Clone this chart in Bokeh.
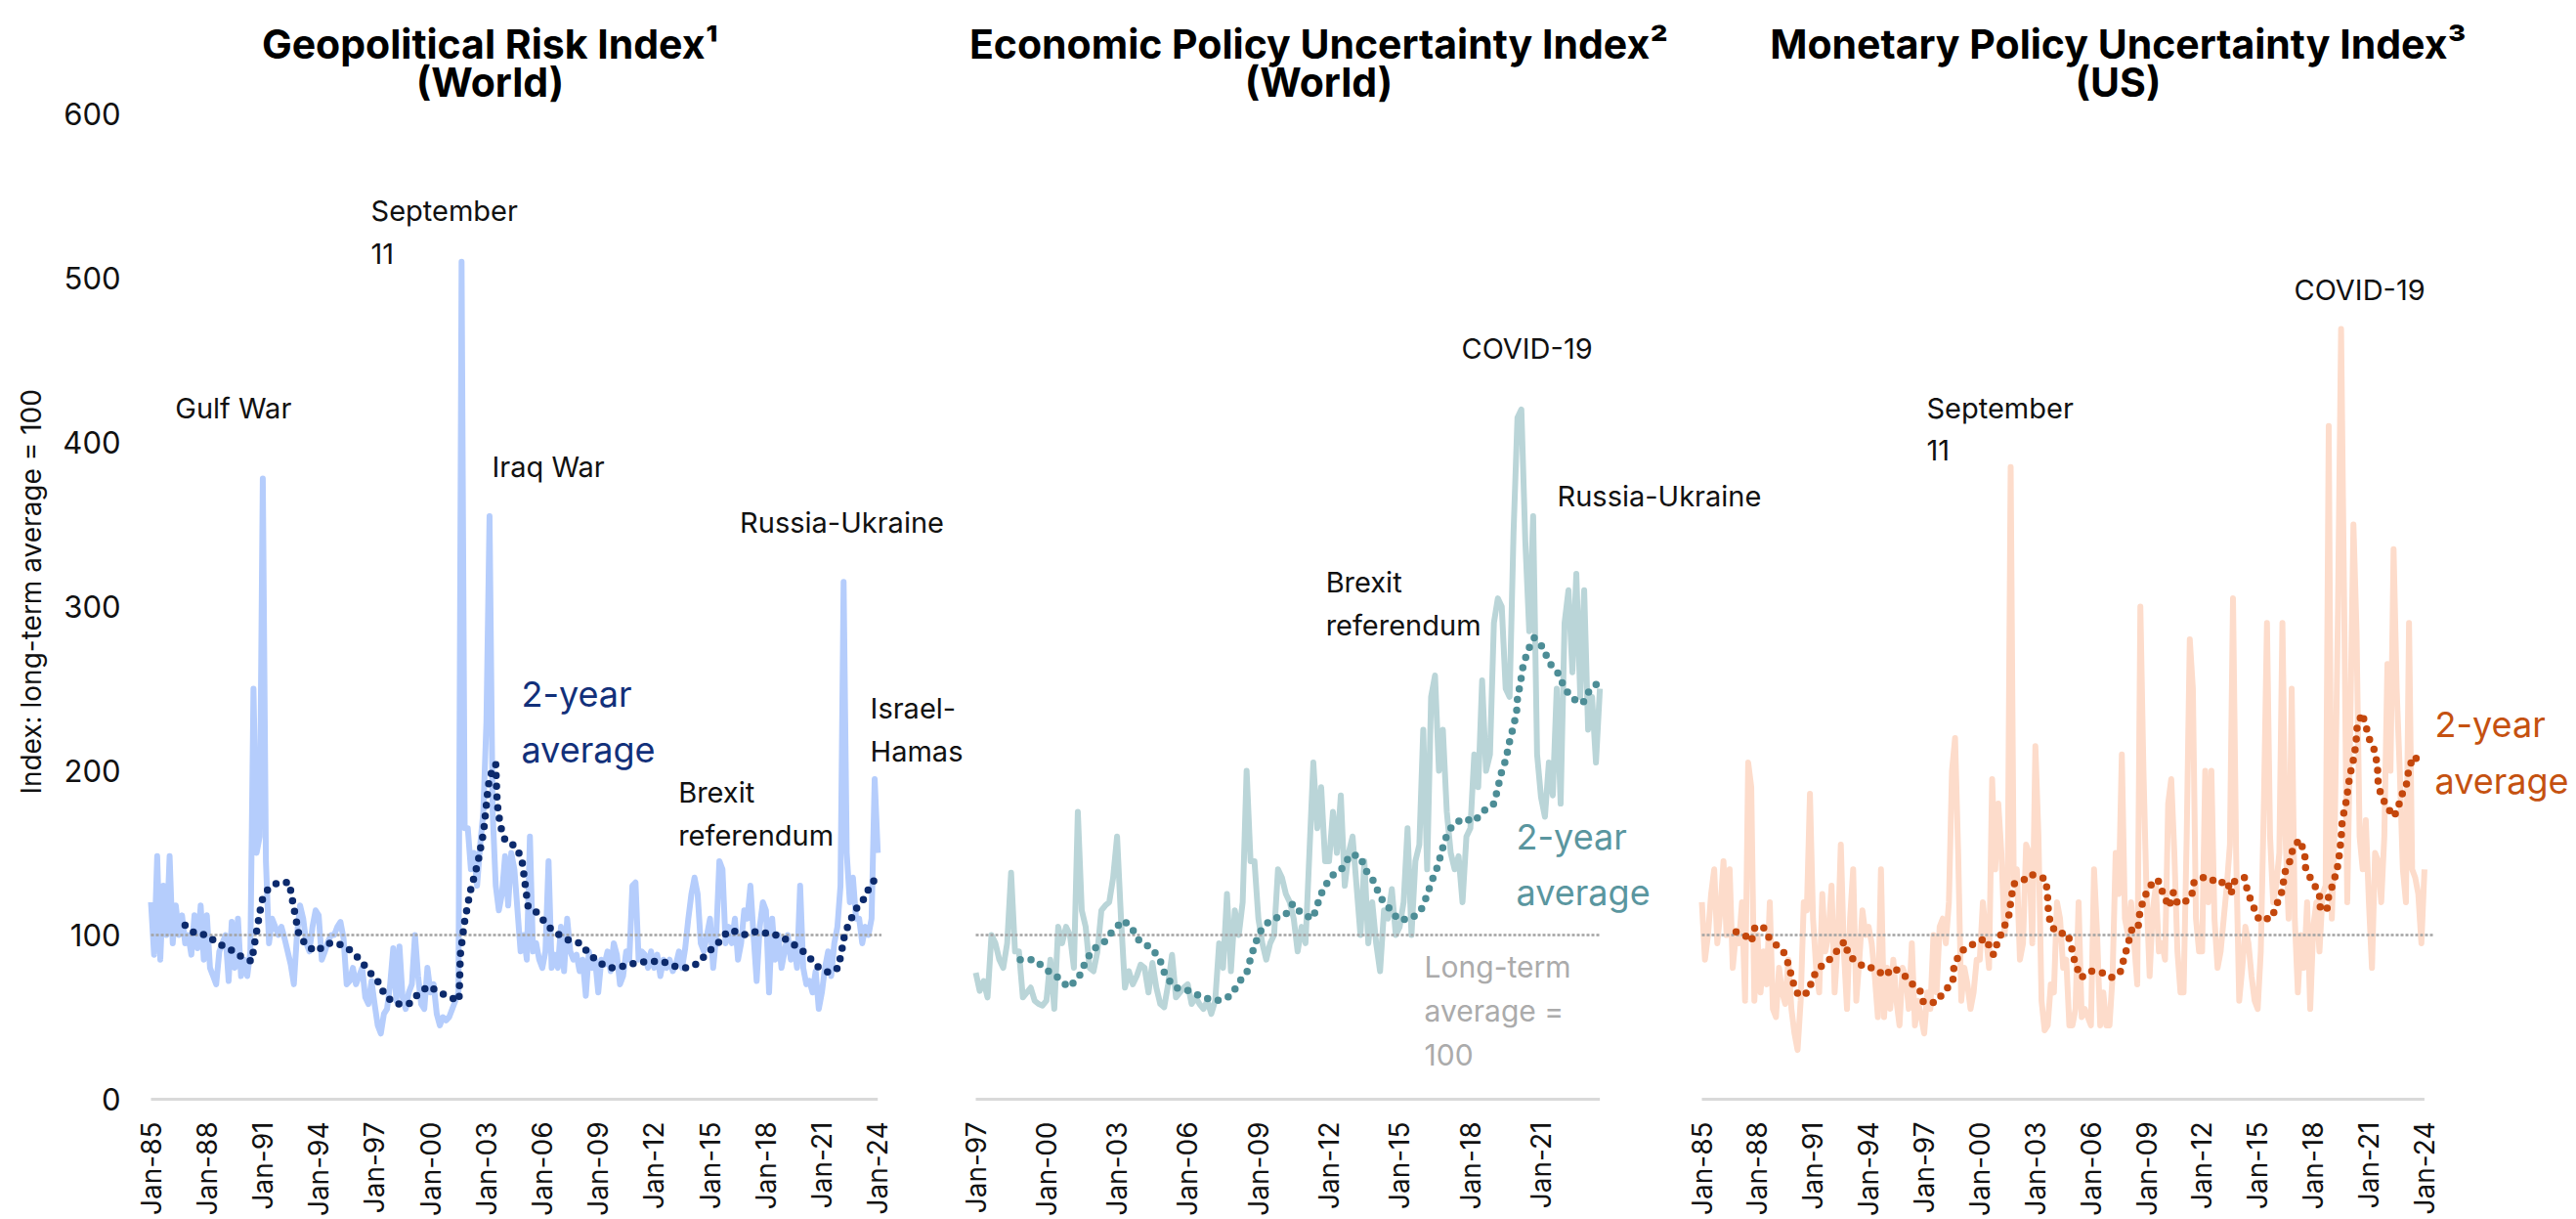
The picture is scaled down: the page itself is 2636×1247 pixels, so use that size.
import math
import pandas as pd
from bokeh.plotting import figure
from bokeh.models import Range1d, Label, LabelSet, ColumnDataSource
from bokeh.core.properties import value
from bokeh.embed import file_html
from bokeh.resources import INLINE

FONT = "Inter"

# ---------------------------------------------------------------- data
# Geopolitical Risk Index (world), readings every two months from Jan-1985
gpr_start = "1985-01"
gpr_values = [
    120, 88, 148, 85, 130, 100,    # 1985
    148, 95, 118, 100, 112, 95,    # 1986
    100, 88, 112, 92, 118, 85,     # 1987
    112, 80, 75, 70, 90, 95,       # 1988
    100, 72, 108, 80, 110, 75,     # 1989
    85, 75, 90, 250, 150, 160,     # 1990
    378, 145, 95, 110, 105, 100,   # 1991
    105, 98, 90, 82, 70, 100,      # 1992
    118, 110, 95, 90, 105, 115,    # 1993
    112, 85, 90, 96, 100, 100,     # 1994
    105, 108, 98, 70, 72, 80,      # 1995
    70, 75, 80, 62, 58, 72,        # 1996
    58, 45, 40, 52, 55, 70,        # 1997
    92, 60, 93, 62, 55, 65,        # 1998
    70, 100, 75, 58, 55, 80,       # 1999
    65, 70, 52, 45, 50, 48,        # 2000
    50, 55, 60, 65, 510, 165,      # 2001
    165, 140, 150, 130, 155, 175,  # 2002
    230, 355, 175, 130, 115, 125,  # 2003
    148, 118, 150, 140, 115, 90,   # 2004
    100, 85, 160, 90, 95, 85,      # 2005
    80, 90, 145, 80, 88, 80,       # 2006
    105, 78, 110, 90, 85, 88,      # 2007
    78, 85, 63, 90, 80, 85,        # 2008
    65, 85, 82, 90, 78, 95,        # 2009
    88, 70, 75, 90, 85, 130,       # 2010
    132, 85, 90, 88, 80, 90,       # 2011
    80, 88, 75, 85, 80, 85,        # 2012
    78, 82, 90, 80, 92, 110,       # 2013
    125, 135, 125, 95, 90, 100,    # 2014
    110, 80, 100, 145, 140, 95,    # 2015
    105, 95, 110, 85, 95, 115,     # 2016
    110, 130, 100, 72, 105, 120,   # 2017
    115, 65, 110, 85, 100, 80,     # 2018
    90, 100, 85, 95, 80, 130,      # 2019
    80, 70, 72, 65, 78, 55,        # 2020
    65, 80, 90, 75, 95, 105,       # 2021
    130, 315, 150, 120, 135, 110,  # 2022
    110, 95, 105, 100, 110, 195,   # 2023
    150,                           # 2024
]
gpr_avg_years = [
    1986.83, 1987.36, 1987.97, 1988.58, 1989.28, 1989.83, 1990.41, 1990.53,
    1990.95, 1991.28, 1991.81, 1992.42, 1992.56, 1992.94, 1993.38, 1993.87,
    1994.48, 1995.03, 1995.65, 1996.22, 1996.69, 1997.22, 1997.57, 1998.14,
    1998.84, 1999.33, 1999.89, 2000.48, 2001.07, 2001.53, 2001.60, 2001.81,
    2002.12, 2002.54, 2002.85, 2003.10, 2003.29, 2003.50, 2003.56, 2003.62,
    2003.76, 2004.02, 2004.58, 2004.90, 2005.02, 2005.12, 2005.24, 2005.80,
    2006.24, 2006.76, 2007.39, 2008.02, 2008.47, 2009.05, 2009.66, 2010.36,
    2011.02, 2011.72, 2012.42, 2013.10, 2013.74, 2014.40, 2014.82, 2015.36,
    2015.75, 2016.15, 2016.79, 2017.33, 2017.81, 2018.21, 2018.65, 2019.26,
    2019.78, 2020.20, 2020.74, 2021.39, 2021.88, 2022.04, 2022.20, 2022.44,
    2022.84, 2023.26, 2023.63, 2023.95,
]
gpr_avg_values = [
    106, 101, 100, 95, 91, 87, 84, 93,
    121, 128, 132, 132, 123, 100, 93, 90,
    95, 95, 91, 85, 78, 71, 63, 58,
    58, 64, 69, 65, 62, 60, 88, 107,
    126, 144, 163, 191, 200, 204, 185, 176,
    166, 157, 154, 146, 136, 127, 117, 113,
    106, 101, 97, 95, 89, 83, 80, 81,
    83, 84, 84, 81, 80, 83, 89, 94,
    100, 103, 100, 102, 102, 100, 100, 96,
    92, 88, 81, 77, 80, 89, 99, 107,
    116, 122, 131, 135,
]
gpr_ticks = ["Jan-85", "Jan-88", "Jan-91", "Jan-94", "Jan-97", "Jan-00", "Jan-03",
             "Jan-06", "Jan-09", "Jan-12", "Jan-15", "Jan-18", "Jan-21", "Jan-24"]

# Economic Policy Uncertainty Index (world), readings every two months from Jan-1997
epu_start = "1997-01"
epu_values = [
    77, 66, 72, 62, 100, 95,       # 1997
    85, 80, 95, 138, 90, 90,       # 1998
    62, 65, 68, 60, 58, 57,        # 1999
    60, 85, 55, 105, 95, 105,      # 2000
    100, 80, 175, 115, 105, 80,    # 2001
    78, 90, 115, 118, 120, 135,    # 2002
    160, 110, 68, 78, 70, 75,      # 2003
    82, 80, 65, 83, 68, 58,        # 2004
    56, 70, 88, 62, 65, 68,        # 2005
    70, 58, 62, 58, 55, 60,        # 2006
    52, 60, 95, 80, 125, 78,       # 2007
    115, 100, 120, 200, 145, 145,  # 2008
    110, 95, 85, 95, 100, 140,     # 2009
    135, 125, 120, 110, 90, 105,   # 2010
    95, 150, 205, 165, 190, 145,   # 2011
    145, 175, 150, 185, 130, 150,  # 2012
    160, 130, 100, 145, 95, 120,   # 2013
    95, 78, 115, 110, 128, 100,    # 2014
    105, 120, 165, 100, 145, 155,  # 2015
    225, 140, 245, 258, 200, 225,  # 2016
    175, 150, 140, 148, 120, 160,  # 2017
    165, 210, 190, 255, 200, 210,  # 2018
    290, 305, 300, 250, 245, 345,  # 2019
    415, 420, 340, 285, 355, 210,  # 2020
    184, 172, 205, 185, 250, 180,  # 2021
    290, 310, 260, 320, 245, 310,  # 2022
    225, 245, 205, 250,            # 2023
]
epu_avg_years = [
    1998.89, 1999.49, 1999.99, 2000.50, 2000.94, 2001.37, 2001.64, 2001.95,
    2002.47, 2002.84, 2003.28, 2003.63, 2003.96, 2004.49, 2004.84, 2005.06,
    2005.46, 2006.08, 2006.63, 2007.25, 2007.84, 2008.17, 2008.53, 2008.69,
    2008.90, 2009.18, 2009.63, 2010.14, 2010.46, 2010.83, 2011.31, 2011.52,
    2011.75, 2012.11, 2012.59, 2012.90, 2013.31, 2013.58, 2013.93, 2014.17,
    2014.57, 2014.96, 2015.49, 2015.90, 2016.13, 2016.34, 2016.59, 2016.75,
    2016.92, 2017.24, 2017.72, 2018.16, 2018.51, 2019.00, 2019.16, 2019.30,
    2019.51, 2019.65, 2019.81, 2019.96, 2020.00, 2020.13, 2020.23, 2020.43,
    2020.71, 2021.09, 2021.34, 2021.74, 2022.01, 2022.33, 2022.77, 2023.06,
    2023.54,
]
epu_avg_values = [
    85, 85, 79, 74, 68, 74, 83, 91,
    96, 103, 109, 104, 96, 92, 84, 75,
    68, 66, 62, 60, 63, 71, 78, 87,
    96, 105, 110, 112, 119, 113, 110, 119,
    128, 136, 141, 149, 148, 139, 132, 123,
    116, 109, 110, 115, 123, 132, 141, 149,
    158, 167, 171, 169, 175, 180, 189, 198,
    207, 217, 226, 235, 244, 254, 263, 273,
    281, 275, 266, 259, 250, 244, 241, 249,
    255,
]
epu_ticks = ["Jan-97", "Jan-00", "Jan-03", "Jan-06", "Jan-09", "Jan-12",
             "Jan-15", "Jan-18", "Jan-21"]

# Monetary Policy Uncertainty Index (US), readings every two months from Jan-1985
mpu_start = "1985-01"
mpu_values = [
    120, 85, 100, 125, 140, 95,    # 1985
    115, 145, 100, 140, 80, 100,   # 1986
    95, 120, 60, 205, 190, 60,     # 1987
    100, 65, 90, 70, 120, 55,      # 1988
    50, 80, 65, 58, 85, 55,        # 1989
    40, 30, 60, 120, 115, 186,     # 1990
    110, 80, 65, 125, 90, 100,     # 1991
    130, 65, 95, 155, 90, 55,      # 1992
    110, 140, 60, 85, 115, 100,    # 1993
    105, 95, 75, 50, 140, 50,      # 1994
    80, 55, 85, 60, 45, 80,        # 1995
    75, 55, 95, 45, 60, 50,        # 1996
    40, 65, 55, 100, 65, 105,      # 1997
    110, 95, 120, 200, 220, 150,   # 1998
    60, 80, 70, 55, 65, 85,        # 1999
    85, 120, 100, 80, 195, 140,    # 2000
    180, 150, 100, 120, 385, 130,  # 2001
    140, 85, 95, 155, 150, 95,     # 2002
    215, 160, 60, 42, 45, 70,      # 2003
    65, 120, 110, 80, 85, 45,      # 2004
    45, 55, 120, 50, 55, 50,       # 2005
    45, 140, 100, 45, 65, 45,      # 2006
    45, 75, 150, 125, 210, 110,    # 2007
    100, 120, 95, 70, 300, 200,    # 2008
    125, 75, 115, 130, 90, 95,     # 2009
    85, 180, 195, 150, 90, 65,     # 2010
    65, 160, 280, 250, 110, 90,    # 2011
    90, 200, 120, 200, 110, 80,    # 2012
    90, 110, 130, 155, 305, 150,   # 2013
    60, 80, 105, 95, 75, 60,       # 2014
    55, 90, 180, 290, 160, 120,    # 2015
    130, 150, 290, 160, 110, 250,  # 2016
    110, 65, 100, 80, 120, 55,     # 2017
    105, 120, 90, 125, 130, 410,   # 2018
    110, 170, 300, 469, 300, 120,  # 2019
    230, 350, 285, 160, 140, 170,  # 2020
    120, 80, 150, 145, 120, 160,   # 2021
    265, 200, 335, 250, 200, 140,  # 2022
    120, 290, 140, 135, 125, 95,   # 2023
    140,                           # 2024
]
mpu_avg_years = [
    1986.85, 1987.43, 1987.67, 1987.87, 1988.31, 1988.64, 1989.01, 1989.45,
    1989.71, 1989.89, 1990.22, 1990.75, 1990.98, 1991.33, 1991.81, 1992.34,
    1992.69, 1992.95, 1993.36, 1993.80, 1994.23, 1994.64, 1994.89, 1995.29,
    1995.82, 1996.26, 1996.75, 1996.96, 1997.66, 1998.10, 1998.54, 1998.60,
    1998.90, 1999.34, 1999.81, 2000.30, 2000.57, 2000.74, 2000.97, 2001.32,
    2001.57, 2001.68, 2001.82, 2002.33, 2002.71, 2003.08, 2003.56, 2003.65,
    2003.70, 2003.82, 2004.22, 2004.74, 2004.96, 2005.14, 2005.46, 2006.02,
    2006.60, 2007.08, 2007.57, 2007.79, 2008.01, 2008.22, 2008.54, 2008.63,
    2008.84, 2009.19, 2009.60, 2009.90, 2010.21, 2010.45, 2010.68, 2011.03,
    2011.42, 2011.56, 2012.00, 2012.41, 2012.83, 2013.36, 2013.55, 2013.76,
    2014.29, 2014.46, 2014.78, 2015.08, 2015.48, 2015.75, 2016.04, 2016.36,
    2016.42, 2016.71, 2016.93, 2017.28, 2017.54, 2017.59, 2017.98, 2018.33,
    2018.38, 2018.73, 2018.82, 2019.09, 2019.30, 2019.42, 2019.51, 2019.56,
    2019.74, 2019.86, 2019.97, 2020.15, 2020.30, 2020.36, 2020.62, 2020.80,
    2021.00, 2021.32, 2021.46, 2021.50, 2021.67, 2022.02, 2022.29, 2022.52,
    2022.73, 2023.03, 2023.17, 2023.43, 2023.84,
]
mpu_avg_values = [
    102, 99, 96, 105, 105, 98, 94, 89,
    81, 72, 63, 65, 74, 80, 84, 91,
    96, 87, 84, 80, 80, 77, 75, 80,
    77, 71, 67, 59, 59, 66, 71, 80,
    89, 93, 95, 98, 92, 88, 96, 105,
    112, 121, 131, 133, 137, 136, 134, 125,
    115, 106, 101, 101, 92, 83, 74, 78,
    77, 74, 77, 86, 95, 104, 104, 113,
    122, 130, 134, 125, 117, 126, 119, 120,
    123, 132, 135, 135, 131, 133, 125, 133,
    135, 126, 117, 109, 110, 110, 119, 128,
    137, 144, 154, 158, 149, 140, 132, 125,
    116, 115, 123, 132, 141, 150, 160, 170,
    179, 188, 197, 206, 216, 226, 235, 229,
    220, 212, 203, 193, 184, 178, 172, 175,
    184, 192, 202, 209, 204,
]
mpu_ticks = gpr_ticks

y_ticks = [0, 100, 200, 300, 400, 500, 600]
long_term_average = 100

# ---------------------------------------------------------------- layout
# The plot frame fills the whole canvas so that titles, tick labels and
# notes can sit anywhere without being clipped.
W, H = 2636, 1247
AXIS_TOP_PX, AXIS_BOTTOM_PX = 116, 1124      # canvas rows of y=600 and y=0
Y_MAX = 600
PX_PER_UNIT = (AXIS_BOTTOM_PX - AXIS_TOP_PX) / Y_MAX
Y_LO = -(H - AXIS_BOTTOM_PX) / PX_PER_UNIT
Y_HI = Y_MAX + AXIS_TOP_PX / PX_PER_UNIT
TICK_GAP_PX = 23
YLABEL_RIGHT_PX = 123
TITLE_BASELINES_PX = (44, 83)

INK = "#111111"
LABEL_SIZE = "29px"


def to_years(start, n):
    months = pd.date_range(start, periods=n, freq="2MS")
    return [d.year + (d.month - 1) / 12 for d in months]


def tick_year(label):
    yy = int(label[-2:])
    return float(1900 + yy if yy >= 50 else 2000 + yy)


panels = [
    dict(key="gpr", origin=1985.0, px0=154, ppy=19.07,
         start=gpr_start, values=gpr_values, avg_x=gpr_avg_years, avg_y=gpr_avg_values,
         ticks=gpr_ticks, line="#b5cdfc", dots="#0c2a6c", avg_text="#12307a",
         span_end=2024.2,
         title=("Geopolitical Risk Index\u00b9", "(World)"), title_x=501,
         notes=[("Gulf War", 1986.3, 421), ("September\n11", 1996.8, 528),
                ("Iraq War", 2003.3, 385), ("Brexit\nreferendum", 2013.3, 174),
                ("Russia-Ukraine", 2016.6, 351), ("Israel-\nHamas", 2023.6, 225)],
         avg_label=(2004.87, 230)),
    dict(key="epu", origin=1997.0, px0=998, ppy=24.1,
         start=epu_start, values=epu_values, avg_x=epu_avg_years, avg_y=epu_avg_values,
         ticks=epu_ticks, line="#bad5d8", dots="#4d8d96", avg_text="#5a969f",
         span_end=None,
         title=("Economic Policy Uncertainty Index\u00b2", "(World)"), title_x=1349,
         notes=[("COVID-19", 2017.62, 457), ("Russia-Ukraine", 2021.69, 367),
                ("Brexit\nreferendum", 2011.86, 302)],
         avg_label=(2019.95, 143)),
    dict(key="mpu", origin=1985.0, px0=1741, ppy=18.96,
         start=mpu_start, values=mpu_values, avg_x=mpu_avg_years, avg_y=mpu_avg_values,
         ticks=mpu_ticks, line="#fddccb", dots="#c4470c", avg_text="#c55110",
         span_end=2024.5,
         title=("Monetary Policy Uncertainty Index\u00b3", "(US)"), title_x=2167,
         notes=[("September\n11", 1997.13, 408), ("COVID-19", 2016.96, 493)],
         avg_label=(2024.56, 211)),
]

p = figure(width=W, height=H, output_backend="svg", toolbar_location=None,
           x_range=Range1d(0, W), y_range=Range1d(Y_LO, Y_HI),
           x_axis_location=None, y_axis_location=None, title_location=None,
           min_border=0, min_border_left=0, min_border_right=0,
           min_border_top=0, min_border_bottom=0)
p.background_fill_color = "white"
p.border_fill_color = "white"
p.outline_line_color = None
p.grid.visible = False

# y tick labels and y axis title, shared by all three panels
for t in y_ticks:
    p.add_layout(Label(x=YLABEL_RIGHT_PX, x_units="screen", y=t, text=str(t),
                       text_font=FONT, text_font_size="31px", text_color=INK,
                       text_align="right", text_baseline="middle"))
p.add_layout(Label(x=31, x_units="screen", y=309, text="Index: long-term average = 100",
                   angle=math.pi / 2, text_font=FONT, text_font_size="28px",
                   text_color=INK, text_align="center", text_baseline="middle"))

for pn in panels:
    key = pn["key"]
    lo = pn["origin"] + (0 - pn["px0"]) / pn["ppy"]
    hi = pn["origin"] + (W - pn["px0"]) / pn["ppy"]
    p.extra_x_ranges[key] = Range1d(lo, hi)

    xs = to_years(pn["start"], len(pn["values"]))
    x_first = tick_year(pn["ticks"][0])
    x_last = pn["span_end"] if pn["span_end"] else xs[-1]
    axis_end = max(xs[-1], tick_year(pn["ticks"][-1]))

    # grey baseline standing in for the x axis
    p.line([x_first, axis_end], [0, 0], x_range_name=key,
           line_color="#d9d9d9", line_width=3)

    # the index itself
    p.line(xs, pn["values"], x_range_name=key, line_color=pn["line"],
           line_width=6, line_join="round")

    # long-term average reference
    p.line([x_first, x_last], [long_term_average, long_term_average], x_range_name=key,
           line_color="#a3a3a3", line_width=2.5, line_dash="3 2")

    # 2-year average, drawn as a dotted line
    p.line(pn["avg_x"], pn["avg_y"], x_range_name=key, line_color=pn["dots"],
           line_width=7.5, line_dash="0 11", line_cap="round", line_join="round")

    # rotated date labels under the baseline
    tick_src = ColumnDataSource(dict(
        x=[tick_year(t) for t in pn["ticks"]],
        y=[-TICK_GAP_PX / PX_PER_UNIT] * len(pn["ticks"]),
        text=pn["ticks"]))
    p.add_layout(LabelSet(x="x", y="y", text="text", source=tick_src, x_range_name=key,
                          angle=math.pi / 2, text_align="right", text_baseline="middle",
                          text_font=value(FONT), text_font_size="28px",
                          text_color=INK))

    # event annotations
    for text, nx, ny in pn["notes"]:
        p.add_layout(Label(x=nx, y=ny, x_range_name=key, text=text,
                           text_font=FONT, text_font_size=LABEL_SIZE, text_color=INK,
                           text_align="left", text_baseline="middle",
                           text_line_height=1.25))

    ax, ay = pn["avg_label"]
    p.add_layout(Label(x=ax, y=ay, x_range_name=key, text="2-year\naverage",
                       text_font=FONT, text_font_size="36px", text_color=pn["avg_text"],
                       text_align="left", text_baseline="middle",
                       text_line_height=1.3))

    # two-line panel title
    for txt, base in zip(pn["title"], TITLE_BASELINES_PX):
        p.add_layout(Label(x=pn["title_x"], y=H - base,
                           x_units="screen", y_units="screen", text=txt,
                           text_font=FONT, text_font_size="41px",
                           text_font_style="bold", text_color="#000000",
                           text_align="center", text_baseline="alphabetic"))

# note on the long-term average line
p.add_layout(Label(x=2016.05, y=54, x_range_name="epu", text="Long-term\naverage =\n100",
                   text_font=FONT, text_font_size="30px", text_color="#ababab",
                   text_align="left", text_baseline="middle", text_line_height=1.25))

open("out.html", "w").write(file_html(p, INLINE))
